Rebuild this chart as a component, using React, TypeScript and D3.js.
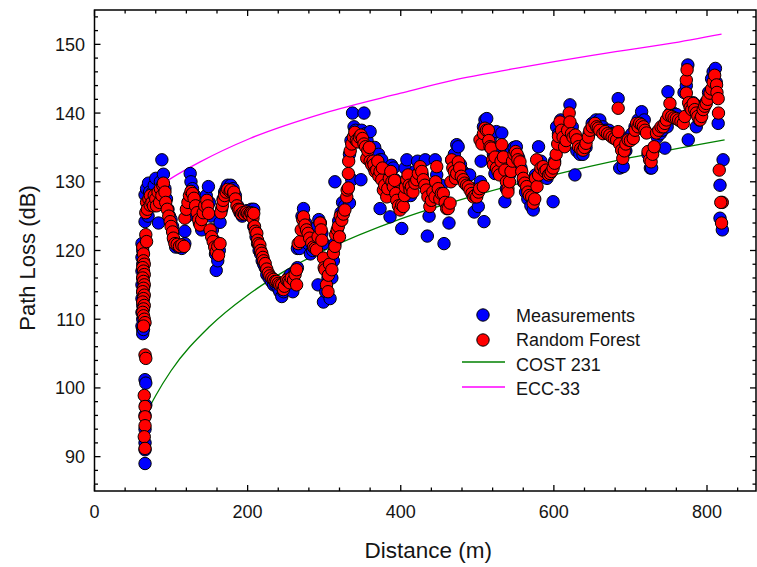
import React from 'react';
import {scaleLinear, line, curveMonotoneX, range} from 'd3';

// [distance (m), path loss (dB)]
const measuredPoints: [number, number][] = [
  // column near the base station
  [62,121],[63,120],[62,119],[63,118],[62,117],[63,116],[62,115],[63,114],[62,113],[63,112],[62,111],[63,110],[62,109],[63,108.5],[63,107.9],[64,108.5],
  [66,101.2],[67,100.7],[67,97.5],[66,96],[66,94],[66,92],[66,91],[66,89],
  // first cluster
  [66,128.1],[68,129],[70.5,129.8],[72,128.5],[74,127],[76,128.5],[78,129.5],[80,130.5],[82,128],[83.6,124],[86,130],[88,133.2],[90,131.1],[92,129],[94,127.5],[96,126],[98,125],[66,124.2],[70,125],[100,124.5],[102,123.5],[104,121.5],[106,120.5],[110,120.5],[114,120.3],[118,121],
  [118,122.8],[121,125],[123,127],[125,131.2],[126,130],[128,129],[131,128],[134,126],[137,124],[140,123],[143,125],[146,128],[148.8,129.3],[150,127],[152,125],[154,123],[156,121.5],[158,119.5],[159,117.1],[161,118.5],[163,120],
  [164,124.1],[166,126],[168,127.5],[170,128.5],[172,129],[174,129.5],[176,129],[178,129.5],[181,129],[184,128],[187,126.5],[190,125.5],[193,125],[196,125.5],[199,125.8],[202,125.5],[205,126],[208,126],
  // descent to the valley
  [208,123.5],[211,122],[213,121],[215,120],[217,119.5],[219,118.5],[221,118],[223,117.5],[225,116.5],[228,116],[231,115.5],[234,115],[237,115],[240,114.5],[242,114],[244.6,113.3],[247,114],[250,115],[253,116],[256,116.5],[259,114],[262,117],[265,117.5],
  // rise
  [265,120.3],[268,120.3],[271,125],[273,126.1],[276,124],[279,121],[282,119.5],[285,120],[288,121.5],[291,123.5],[293,124.5],[295,124],[297,122.5],[299,121],[292,115],[299,112.5],[302,114],[305,116],[307.7,113],[310,116],[312,118.5],[314,121],[316,122.5],[319,124.3],[322,125.5],[324,127],[327,126.5],[314,130],[333,126.9],[336,130.3],[348,130.3],
  // peak
  [333,134],[335,136],[337,140],[339,138],[341,137.5],[344,137],[347,136],[349,137.5],[352,140],[354,137],[356,136],[358,134],[360,137.3],[363,133.5],[365,132],
  // middle band
  [366,135],[368,133.5],[371,134],[373,133.2],[373,126.1],[375.2,133.2],[377,131],[380,129],[383,131],[386,124.9],[388,132.4],[390.3,132],[392.6,130.3],[395,128],[398,127],[401.3,123.2],[403,127.5],[405.6,132],[408,133.2],[410,130],[413,128],[416,130],[419,131.5],[422,133],[425,131.5],[428,131],[432,133.2],[434.7,122.1],[437,125],[440,128.5],[443,129.5],[445,133.2],[447,131],[450,128],[453,129.5],[456.5,121],[458,127],[461,126.5],[463,124],[466.6,133.2],[470,134],[473.1,135.4],[475,135.1],[478,132.5],[481,131.5],[484,130.5],[487,131],[490,131],[493,129],[496,125.6],[499,128],[501.3,126.4],[504,130],[508.7,124.2],
  [505,133],[508,138],[510,139],[512.3,139.2],[515,137.5],[518,136.5],[521,134],[523,131.2],[525,137.3],[528,135],[532,137.1],[535,134],[536,127.1],[538,129],
  [542,131],[545,134.5],[548,135],[551,135.1],[554,133.5],[557,132],[560,130],[563,128.5],[566,127.5],[570,126.5],[573,125.9],[576,131],[580,135.1],[583,133],[587,131],[591,130.5],[595,131.5],[599,127.1],[601,133],[603.6,138],[606,137],[609,139],
  [611,138],[615,137],[618,139],[621,141.2],[624,138],[627.5,131],[630,134.5],[634,134],[638,134],[642,135],[646,137],[650,138.5],[655,139],[660,139],[664,138],[668,137.5],[672,137.5],[676,137],[680,137],[684,142.1],[686,132],[690.6,132.2],[694,134.5],[698,136.5],[702,137],[706,138],[710,139],[714.6,140.2],[718,139],
  [723,134],[726,132],[727.7,132],[731,135],[735,136.5],[739,137],[742,137.5],[745,134.9],[748,138],[749,143.1],[752,140],[756,140],[760,139.8],[764,139],[768,139],[770,143],[773,144],[775,147],[775.5,136.1],[778,141],[782,141.5],[786,138],[790,139],[794,141],[798,141.5],[802,143],[806,145],[808,146],[811,146.5],[812,144.5],[814.6,138.5],
  [821,133.2],[817,129.5],[817,124.7],[820,123],
];

const forestPoints: [number, number][] = [
  [63,120.5],[64,119.5],[64,118.5],[65,118],[63,117.5],[64,117],[65,116.5],[63,116],[64,115.5],[65,115],[64,114.5],[63,114],[65,113.5],[64,113],[63,112.5],[65,112],[64,111.5],[63,111],[64,110.5],[65,110],[66,109.5],[64,109],
  [67,122.3],[68,121.3],[66,104.8],[67,104.3],[65,98.9],[66,97.3],[66,95.8],[66,94.5],[65,92.9],[66,91.2],
  [67,125.5],[68,127],[69,126],[71,127.5],[72.7,126.6],[73,128],[75,127],[77,126.5],[78,128],[80,127.5],[81,126.5],[83,128.5],[85,127],[86,129],[88,128],[89,129.5],[90,129.8],[92,128.5],[93,127],[95,126],[97,125],[98.8,124.2],[100,123.5],[102,122.7],[103,121.8],[105,121],[108,120.9],[111,120.6],[114,120.8],[117,120.6],
  [118,124.7],[120,126],[122,127],[124,128],[126,128.6],[128,128.3],[130,127.6],[132,126.5],[134,125.5],[136,124.5],[138,123.7],[140,124.5],[142,125.5],[144,126.5],[146.7,127.3],[148,126.5],[149,125.4],[151,123],[153,122],[155,121.3],[157,120.5],[159,119.8],[161,120.6],[162,119.3],[164,121],
  [165,125.5],[167,126.5],[168,127.3],[170,128],[172,128.5],[174,128.9],[177,128.6],[178,128.8],[181.5,128.3],[182,128.5],[184,127.5],[186,126.5],[188,126],[190,125.9],[192,125.3],[194,125.5],[196,125.3],[198,125.6],[200,125.4],[202,125.2],[204,125.5],[205.5,125.4],[207,124.7],[208,125.4],
  [209,123.5],[210,122.8],[212,122.5],[213,121.5],[214,121],[216,120.8],[217,120],[218.5,119.6],[220,119],[221,118.5],[223,118.1],[225,117.3],[227,116.7],[229,116.3],[231.6,116],[234,115.8],[236,115.5],[238,115.5],[240,115.2],[242,115],[244.6,115],[246.7,114.3],[248,114.8],[251,115.7],[253,115.5],[255,115.3],[257,116],[260,115.7],[262,116.5],[264,117.2],[264,115],
  [266,121],[268.5,121.3],[270,123],[272,124.5],[273,124.9],[275,123.7],[277,123],[279,122.5],[281,121.8],[283.8,121.1],[286,120.5],[288,120.3],[290,120.1],[292,122],[294.6,124],[296,123],[297,121.5],[299,118.9],[300,117.5],[301,117.2],[303,115],[305,114],[305.5,116.4],[307,118],[310,117.2],[312,119.6],[314,120.6],[315,122.3],[317,123],[318.5,123.5],[320,122],[321,125],[323,124.4],[325,125.3],[327,125.9],[329.5,127.8],[330,128.8],[331.6,129.1],[331.6,131.2],
  [332,133],[334,134.5],[336,135.5],[338,136.5],[340,137.2],[342,136],[344,135.8],[346,136.5],[348,136.8],[350,136.3],[352,135.5],[354,135.1],[355.6,133.4],[357,134.5],[359,135],[360,133],[362,132.5],[364,133],
  [365,132.5],[366.5,131.5],[368.6,131.7],[370,133],[371.5,130.8],[373,131.5],[375.2,130.3],[376,132],[377.3,128.8],[379,129.5],[381.7,127.8],[383,129],[385,130.5],[387,131.5],[388.5,130],[390.3,129.3],[392,130.2],[393.5,128.3],[394.8,127.3],[397,126.5],[399.1,125.9],[401.3,126.6],[403.4,126.4],[405,128],[406,129.2],[407.8,130.3],[409.5,131],[411,129.5],[412.1,128.8],[414,129.3],[416,128.5],[418.5,129.8],[420.9,130.3],[423,131.2],[425.2,132.2],[427.5,131.5],[429.5,130.3],[431.5,129.5],[433.5,128.8],[435.5,127.8],[438,126.4],[440,127.3],[442,128.5],[444.8,127.8],[447,132.2],[445.5,130],[449,129],[451,127.5],[453,128.3],[455.6,128.3],[458,127],[460,126.1],[462,126.1],[464.4,126.9],[465.5,130],[466.6,133.2],[468,132],[470,131.5],[471.5,130.5],[473.1,131.2],[475.2,132.9],[477,132],[479,130.8],[481.7,130.3],[483.5,129.8],[486,129.5],[488.3,129.3],[490.5,128.8],[493,128.3],[495,127.8],[497,128],[499.2,127.8],[501.5,128.5],[503,129],[507.8,129.3],
  [503.5,136.1],[506,135.5],[508,137],[510,137.8],[512,137.5],[514.4,137.5],[515,136],[516.6,135.1],[518,134.9],[520,133.2],[521,132.5],[523.1,133.6],[525,132],[527,131.5],[529,131],[531,133],[532,135.4],[534,133.6],[536,131.7],[538,130],[540,129],
  [540,128.5],[542,130],[544,131.5],[546,133],[548,134],[550,134.4],[552,134],[553,133.2],[555.7,132.9],[558,131.5],[560,130.5],[562,129.8],[564.5,129.3],[566,128.5],[568,128],[571,127.8],[573,126.9],[575,127.5],[577.5,133.2],[576,130.5],[578,129.3],[580,131],[583,132],[586,132.2],[588,131.5],[590,131.7],[593,131],[595,131.2],[597,131.5],[599,132],[601,132.7],[603,134],[605,135.5],[606,136.6],[608,138.7],[610,137.5],
  [612,136.5],[614,135.1],[616,136],[618,137.5],[620,140],[621,138.7],[623,137],[625,136.5],[628,136.8],[630,136.1],[632,135.1],[635,134.8],[638,134.6],[640,135],[642,135.6],[645,136.5],[647,137.5],[650,138],[653.7,138.5],[656,138],[658,137.8],[660,137.5],[664,137],[667,137.3],[670,137],[673,136.8],[676,136.5],[679,136.3],[682,136.1],[684,137.3],[684,140.7],[686,135.5],[688.5,134.6],[690,133.4],[692,134.5],[694,135.5],[697,136.1],[700,136],[703.7,136.3],[706,137.5],[708,138.5],[710,138],[712,138.5],[714.6,138.3],[717,138],[719,137.5],[721,137.1],
  [723,134.4],[725,133.2],[727,132.9],[729,134],[731,135.1],[734,137.1],[737,137.5],[740,138],[742.8,138],[745,138.5],[747,139],[750,139.7],[751.6,141.4],[754,139.5],[757,139.3],[760,139.2],[763,139],[766,138.8],[769,138.5],[771,139.5],[773,142.9],[773,144.8],[774,146.3],[776,141.5],[778,140.8],[780,140.5],[782,141.4],[784,140.5],[786,140],[788,139.5],[791,139],[793,139.5],[795,140.5],[797,141],[799,141.4],[801,142],[804,142.9],[806,143.5],[808,144.5],[810,145.5],[812.5,144.1],[813,143],[814.6,142.1],[815,140],
  [816,131.7],[820,127],[818,127],[819,124],
];

const cost231Curve: [number, number][] = [
  [61,94.6],[70,96.8],[80,98.9],[100,102.5],[150,108.9],[200,113.5],[250,117.1],[300,120.0],[400,124.6],[500,128.1],[600,131.0],[700,133.5],[823,136.1],
];

const ecc33Curve: [number, number][] = [
  [61,126.8],[64,127.2],[80,129.0],[100,130.5],[138,132.9],[203,136.3],[300,140.0],[400,142.9],[469,144.8],[550,146.5],[650,148.4],[750,150.1],[819,151.5],
];

const xTickValues = [0, 200, 400, 600, 800];
const yTickValues = [90, 100, 110, 120, 130, 140, 150];
const legendLabels = ['Measurements', 'Random Forest', 'COST 231', 'ECC-33'];

const font = '"Liberation Sans", Arial, sans-serif';
const ink = '#151515';

const App = () => {
  const left = 94.5, right = 756, top = 10, bottom = 491;
  const x = scaleLinear().domain([0, 864]).range([left, right]);
  const y = scaleLinear().domain([85, 155]).range([bottom, top]);
  const l = line<[number, number]>().x(d => x(d[0])).y(d => y(d[1])).curve(curveMonotoneX);

  const xMinor = range(40, 864, 40).filter(v => v % 200 !== 0);
  const yMinor = range(86, 155, 2).filter(v => v % 10 !== 0);
  const major = 6, minor = 3.5;

  return (
    <svg width={757} height={567} style={{position: 'absolute', left: 0, top: 0}} fontFamily={font}>
      <rect x={0} y={0} width={757} height={567} fill="#fff"/>

      <path d={l(ecc33Curve) || ''} fill="none" stroke="#ff00ff" strokeWidth={1.3}/>
      <path d={l(cost231Curve) || ''} fill="none" stroke="#008000" strokeWidth={1.3}/>

      <g>
        {measuredPoints.map((p, i) =>
          <circle key={i} cx={x(p[0])} cy={y(p[1])} r={6.2} fill="#0000ff" stroke="#000" strokeWidth={1}/>)}
      </g>
      <g>
        {forestPoints.map((p, i) =>
          <circle key={i} cx={x(p[0])} cy={y(p[1])} r={6.2} fill="#ff0000" stroke="#000" strokeWidth={1}/>)}
      </g>

      {/* frame and inward ticks on all sides */}
      <g stroke="#000" strokeWidth={1.3}>
        <rect x={left} y={top} width={right - left} height={bottom - top} fill="none" strokeWidth={1.5}/>
        {xTickValues.map(t => <g key={'xm' + t}>
          <line x1={x(t)} x2={x(t)} y1={bottom} y2={bottom - major}/>
          <line x1={x(t)} x2={x(t)} y1={top} y2={top + major}/>
        </g>)}
        {xMinor.map(t => <g key={'xn' + t}>
          <line x1={x(t)} x2={x(t)} y1={bottom} y2={bottom - minor}/>
          <line x1={x(t)} x2={x(t)} y1={top} y2={top + minor}/>
        </g>)}
        {yTickValues.map(t => <g key={'ym' + t}>
          <line x1={left} x2={left + major} y1={y(t)} y2={y(t)}/>
          <line x1={right} x2={right - major} y1={y(t)} y2={y(t)}/>
        </g>)}
        {yMinor.map(t => <g key={'yn' + t}>
          <line x1={left} x2={left + minor} y1={y(t)} y2={y(t)}/>
          <line x1={right} x2={right - minor} y1={y(t)} y2={y(t)}/>
        </g>)}
      </g>

      <g fontSize={18} fill={ink}>
        {xTickValues.map(t =>
          <text key={t} x={x(t)} y={518} textAnchor="middle">{t}</text>)}
        {yTickValues.map(t =>
          <text key={t} x={85} y={y(t) + 6.5} textAnchor="end">{t}</text>)}
      </g>

      <text x={(left + right) / 2 + 3} y={558} textAnchor="middle" fontSize={22.5} fill={ink}>Distance (m)</text>
      <text transform="translate(35,258) rotate(-90)" textAnchor="middle" fontSize={22} fill={ink}>Path Loss (dB)</text>

      <g fontSize={18} fill={ink}>
        <circle cx={483} cy={315} r={6.2} fill="#0000ff" stroke="#000"/>
        <circle cx={483} cy={340} r={6.2} fill="#ff0000" stroke="#000"/>
        <line x1={462} x2={505} y1={362} y2={362} stroke="#008000" strokeWidth={1.3}/>
        <line x1={462} x2={505} y1={387} y2={387} stroke="#ff00ff" strokeWidth={1.3}/>
        {legendLabels.map((s, i) =>
          <text key={s} x={516} y={315 + i * 24.5 + 6.5}>{s}</text>)}
      </g>
    </svg>
  );
};

export default App;
